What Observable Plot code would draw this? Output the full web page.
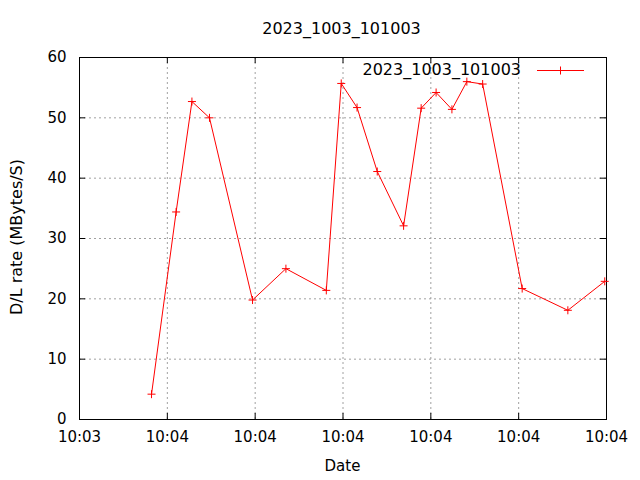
<!DOCTYPE html>
<html><head><meta charset="utf-8">
<script src="https://cdn.jsdelivr.net/npm/d3@7"></script>
<script src="https://cdn.jsdelivr.net/npm/@observablehq/plot@0.6"></script>
<style>body{margin:0;background:#fff} svg{display:block}</style>
</head><body><div id="chart"></div>
<script>
const chartTitle = "2023_1003_101003";
const seriesName = "2023_1003_101003";
const xLabel = "Date";
const yLabel = "D/L rate (MBytes/S)";
const times = ["10:03:58.2","10:04:01.0","10:04:02.8","10:04:04.8","10:04:09.7","10:04:13.5","10:04:18.1","10:04:19.8","10:04:21.6","10:04:23.9","10:04:26.9","10:04:28.9","10:04:30.6","10:04:32.4","10:04:34.1","10:04:35.9","10:04:40.4","10:04:45.6","10:04:49.8"];
const rates = [4.2, 34.4, 52.7, 50.0, 19.8, 25.0, 21.4, 55.7, 51.7, 41.1, 32.1, 51.6, 54.2, 51.4, 56.0, 55.6, 21.7, 18.1, 22.9];
const xTicks = ["10:03:50","10:04:00","10:04:10","10:04:20","10:04:30","10:04:40","10:04:50"];
const yTicks = [0, 10, 20, 30, 40, 50, 60];

const parse = s => { const [h, m, sec] = s.split(":"); return new Date(Date.UTC(2023, 9, 3, +h, +m, 0) + (+sec) * 1000); };
const data = times.map((t, i) => ({t: parse(t), v: rates[i]}));
const xTickDates = xTicks.map(parse);

const plus = {draw(ctx, size) { const r = 4; ctx.moveTo(-r, 0); ctx.lineTo(r, 0); ctx.moveTo(0, -r); ctx.lineTo(0, r); }};
const ML = 79, MR = 34, MT = 57, MB = 61, WIDTH = 640, HEIGHT = 480;
const W = WIDTH - ML - MR, H = HEIGHT - MT - MB, TL = 6;
const grid = {stroke: "#a0a0a0", strokeDasharray: "2,3", strokeWidth: 1};

const svg = Plot.plot({
  width: WIDTH, height: HEIGHT, marginLeft: ML, marginRight: MR, marginTop: MT, marginBottom: MB,
  style: {fontFamily: "DejaVu Sans", fontSize: "15px", color: "#000", background: "#fff"},
  x: {type: "utc", domain: [xTickDates[0], xTickDates[xTickDates.length - 1]]},
  y: {domain: [yTicks[0], yTicks[yTicks.length - 1]]},
  marks: [
    Plot.ruleX(xTickDates, grid),
    Plot.ruleY(yTicks, grid),
    Plot.ruleY(yTicks, {stroke: "#000", insetRight: W - TL}),
    Plot.ruleY(yTicks, {stroke: "#000", insetLeft: W - TL}),
    Plot.ruleX(xTickDates, {stroke: "#000", insetTop: H - TL}),
    Plot.ruleX(xTickDates, {stroke: "#000", insetBottom: H - TL}),
    Plot.frame({stroke: "#000"}),
    Plot.axisX({ticks: xTickDates, tickSize: 0, tickPadding: 12, tickFormat: d3.utcFormat("%H:%M"), label: null}),
    Plot.axisY({ticks: yTicks, tickSize: 0, tickPadding: 13, label: null}),
    Plot.line(data, {x: "t", y: "v", stroke: "#ff0000", strokeWidth: 1}),
    Plot.dot(data, {x: "t", y: "v", symbol: plus, stroke: "#ff0000", fill: "none", strokeWidth: 1})
  ]
});

const s = d3.select(svg);
const ff = "DejaVu Sans";
s.append("text").attr("x", 341.5).attr("y", 33.5).attr("text-anchor", "middle")
  .attr("font-family", ff).attr("font-size", 16).attr("fill", "#000").text(chartTitle);
s.append("text").attr("x", ML + W / 2).attr("y", 471).attr("text-anchor", "middle")
  .attr("font-family", ff).attr("font-size", 15).attr("fill", "#000").text(xLabel);
s.append("text").attr("transform", `translate(22,${MT + H / 2 - 1}) rotate(-90)`).attr("text-anchor", "middle")
  .attr("font-family", ff).attr("font-size", 16).attr("fill", "#000").text(yLabel);
const lg = s.append("g");
lg.append("text").attr("x", 521).attr("y", 75).attr("text-anchor", "end")
  .attr("font-family", ff).attr("font-size", 16).attr("fill", "#000").text(seriesName);
lg.append("line").attr("x1", 537).attr("x2", 584).attr("y1", 70.5).attr("y2", 70.5).attr("stroke", "#ff0000");
lg.append("path").attr("d", "M556.5,70.5h8M560.5,66.5v8").attr("stroke", "#ff0000").attr("fill", "none");

document.getElementById("chart").appendChild(svg);
</script>
</body></html>
